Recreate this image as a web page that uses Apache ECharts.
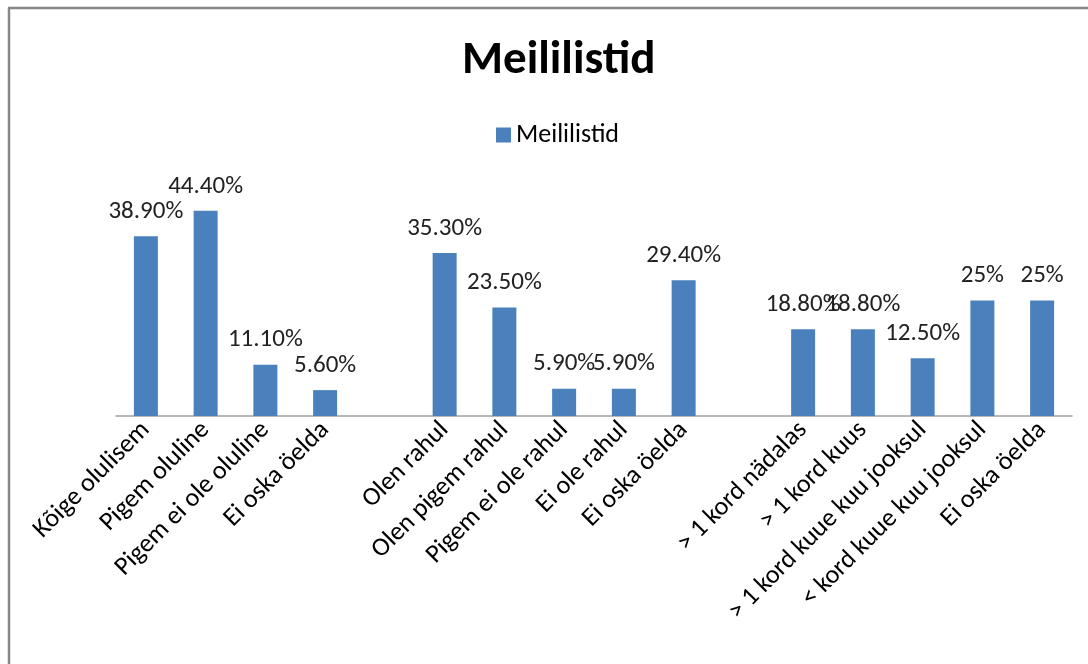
<!DOCTYPE html>
<html>
<head>
<meta charset="utf-8">
<script src="https://cdn.jsdelivr.net/npm/echarts@6/dist/echarts.min.js"></script>
<style>
html,body{margin:0;padding:0;background:#fff;}
#chart{width:1088px;height:664px;}
</style>
</head>
<body>
<div id="chart"></div>
<script>
var categories = ['Kõige olulisem','Pigem oluline','Pigem ei ole oluline','Ei oska öelda','',
  'Olen rahul','Olen pigem rahul','Pigem ei ole rahul','Ei ole rahul','Ei oska öelda ','',
  '> 1 kord nädalas','> 1 kord kuus','> 1 kord kuue kuu jooksul','< kord kuue kuu jooksul','Ei oska öelda  '];
var values = [38.9, 44.4, 11.1, 5.6, null,
  35.3, 23.5, 5.9, 5.9, 29.4, null,
  18.8, 18.8, 12.5, 25, 25];
var labels = ['38.90%','44.40%','11.10%','5.60%','',
  '35.30%','23.50%','5.90%','5.90%','29.40%','',
  '18.80%','18.80%','12.50%','25%','25%'];
var seriesName = 'Meililistid';
var titleText = 'Meililistid';

var chart = echarts.init(document.getElementById('chart'), null, {renderer:'canvas'});
var font = 'Carlito, "Open Sans", "Liberation Sans", sans-serif';
chart.setOption({
  animation:false,
  backgroundColor:'#fff',
  title:{text:titleText,left:457,top:33,
    textStyle:{fontFamily:font,fontWeight:'bold',fontSize:47,color:'#000'}},
  legend:{data:[seriesName],top:117,left:491,itemWidth:15,itemHeight:15,itemGap:7,
    icon:'rect',textStyle:{fontFamily:font,fontSize:26,color:'#000'}},
  grid:{left:116,right:16,top:185,bottom:248},
  xAxis:{type:'category',data:categories,
    axisLine:{lineStyle:{color:'#a0a0a0',width:1.5}},
    axisTick:{show:false},
    axisLabel:{rotate:45,interval:0,margin:10,fontFamily:font,fontSize:26,color:'#000',
      formatter:function(v){return v.trim();}}},
  yAxis:{type:'value',min:0,max:50,show:false,splitLine:{show:false}},
  series:[{name:seriesName,type:'bar',data:values,barWidth:24,
    itemStyle:{color:'#4a81bd'},
    label:{show:true,position:'top',distance:12,fontFamily:font,fontSize:25,color:'#222',
      formatter:function(p){return labels[p.dataIndex];}}}],
  graphic:[
    {type:'line',shape:{x1:8,y1:8,x2:1088,y2:8},style:{stroke:'#888',lineWidth:2.5}},
    {type:'line',shape:{x1:9,y1:8,x2:9,y2:664},style:{stroke:'#888',lineWidth:2.5}}
  ]
});
</script>
</body>
</html>
